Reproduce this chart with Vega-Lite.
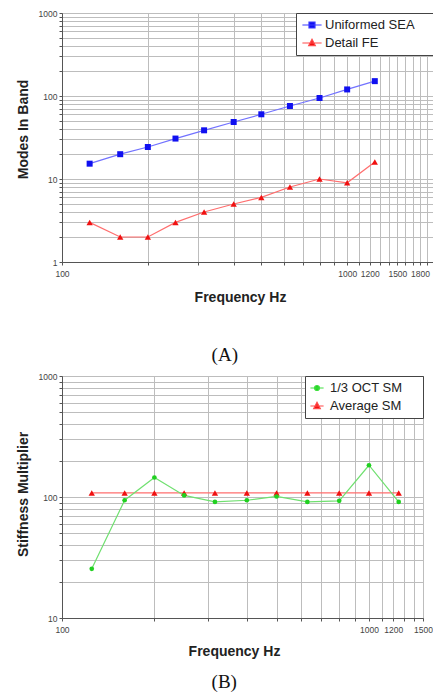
{
  "$schema": "https://vega.github.io/schema/vega-lite/v6.json",
  "background": "white",
  "padding": {"left": 15, "top": 8, "right": 0, "bottom": 0},
  "spacing": 6,
  "resolve": {
    "scale": {"fill": "independent", "stroke": "independent", "shape": "independent", "color": "independent"},
    "legend": {"fill": "independent", "stroke": "independent", "shape": "independent", "color": "independent"}
  },
  "config": {
    "font": "Liberation Sans",
    "view": {"stroke": "#555", "strokeWidth": 1},
    "axis": {
      "grid": true,
      "gridColor": "#bdbdbd",
      "gridWidth": 1,
      "domainColor": "#555",
      "tickColor": "#555",
      "tickSize": 3,
      "labelFont": "Liberation Sans",
      "labelFontSize": 8.5,
      "labelColor": "#444",
      "labelOverlap": false,
      "labelFlush": false,
      "titleFont": "Liberation Sans",
      "titleFontSize": 14,
      "titleFontWeight": "bold",
      "titleColor": "#222"
    }
  },
  "datasets": {
    "a": [
      {"freq": 125, "value": 15.3, "series": "Uniformed SEA"},
      {"freq": 160, "value": 19.9, "series": "Uniformed SEA"},
      {"freq": 200, "value": 24.3, "series": "Uniformed SEA"},
      {"freq": 250, "value": 30.7, "series": "Uniformed SEA"},
      {"freq": 315, "value": 38.6, "series": "Uniformed SEA"},
      {"freq": 400, "value": 48.6, "series": "Uniformed SEA"},
      {"freq": 500, "value": 60.2, "series": "Uniformed SEA"},
      {"freq": 630, "value": 75.8, "series": "Uniformed SEA"},
      {"freq": 800, "value": 94.6, "series": "Uniformed SEA"},
      {"freq": 1000, "value": 120, "series": "Uniformed SEA"},
      {"freq": 1250, "value": 151, "series": "Uniformed SEA"},
      {"freq": 125, "value": 3, "series": "Detail FE"},
      {"freq": 160, "value": 2, "series": "Detail FE"},
      {"freq": 200, "value": 2, "series": "Detail FE"},
      {"freq": 250, "value": 3, "series": "Detail FE"},
      {"freq": 315, "value": 4, "series": "Detail FE"},
      {"freq": 400, "value": 5, "series": "Detail FE"},
      {"freq": 500, "value": 6, "series": "Detail FE"},
      {"freq": 630, "value": 8, "series": "Detail FE"},
      {"freq": 800, "value": 10, "series": "Detail FE"},
      {"freq": 1000, "value": 9, "series": "Detail FE"},
      {"freq": 1250, "value": 16, "series": "Detail FE"}
    ],
    "b": [
      {"freq": 125, "value": 25.5, "series": "1/3 OCT SM"},
      {"freq": 160, "value": 94, "series": "1/3 OCT SM"},
      {"freq": 200, "value": 145, "series": "1/3 OCT SM"},
      {"freq": 250, "value": 103, "series": "1/3 OCT SM"},
      {"freq": 315, "value": 91, "series": "1/3 OCT SM"},
      {"freq": 400, "value": 94, "series": "1/3 OCT SM"},
      {"freq": 500, "value": 101, "series": "1/3 OCT SM"},
      {"freq": 630, "value": 91, "series": "1/3 OCT SM"},
      {"freq": 800, "value": 93, "series": "1/3 OCT SM"},
      {"freq": 1000, "value": 183, "series": "1/3 OCT SM"},
      {"freq": 1250, "value": 91, "series": "1/3 OCT SM"},
      {"freq": 125, "value": 108, "series": "Average SM"},
      {"freq": 160, "value": 108, "series": "Average SM"},
      {"freq": 200, "value": 108, "series": "Average SM"},
      {"freq": 250, "value": 108, "series": "Average SM"},
      {"freq": 315, "value": 108, "series": "Average SM"},
      {"freq": 400, "value": 108, "series": "Average SM"},
      {"freq": 500, "value": 108, "series": "Average SM"},
      {"freq": 630, "value": 108, "series": "Average SM"},
      {"freq": 800, "value": 108, "series": "Average SM"},
      {"freq": 1000, "value": 108, "series": "Average SM"},
      {"freq": 1250, "value": 108, "series": "Average SM"}
    ]
  },
  "vconcat": [
    {
      "width": 371,
      "height": 249,
      "title": {"text": "(A)", "orient": "bottom", "frame": "bounds", "anchor": "middle", "font": "Liberation Serif", "fontSize": 19, "fontWeight": "normal", "color": "#111", "offset": 41},
      "data": {"name": "a"},
      "encoding": {
        "x": {"field": "freq", "type": "quantitative",
          "scale": {"type": "log", "domain": [100, 2000], "nice": false},
          "axis": {"title": "Frequency Hz", "titlePadding": 13, "titleX": 178, "labelPadding": 4,
            "values": [100,200,300,400,500,600,700,800,900,1000,1100,1200,1300,1400,1500,1600,1700,1800,1900,2000],
            "labelExpr": "indexof([100,1000,1200,1500,1800], datum.value) >= 0 ? format(datum.value, 'd') : ''"}},
        "y": {"field": "value", "type": "quantitative",
          "scale": {"type": "log", "domain": [1, 1000], "nice": false},
          "axis": {"title": "Modes In Band", "titlePadding": 8, "titleY": 116, "labelPadding": 2,
            "values": [1,2,3,4,5,6,7,8,9,10,20,30,40,50,60,70,80,90,100,200,300,400,500,600,700,800,900,1000],
            "labelExpr": "indexof([1,10,100,1000], datum.value) >= 0 ? format(datum.value, 'd') : ''"}}
      },
      "layer": [
        {"transform": [{"filter": "datum.series === 'Uniformed SEA'"}], "mark": {"type": "line", "stroke": "#7272ff", "strokeWidth": 1.2}},
        {"transform": [{"filter": "datum.series === 'Detail FE'"}], "mark": {"type": "line", "stroke": "#ff6e6e", "strokeWidth": 1.2}},
        {"transform": [{"filter": "datum.series === 'Uniformed SEA'"}], "mark": {"type": "point", "shape": "square", "filled": true, "color": "#1010f0", "size": 36, "opacity": 1}},
        {"transform": [{"filter": "datum.series === 'Detail FE'"}], "mark": {"type": "point", "shape": "triangle-up", "filled": true, "color": "#f01010", "size": 40, "opacity": 1}},
        {"mark": {"type": "point", "filled": true, "opacity": 0, "strokeWidth": 1.2},
          "encoding": {
            "fill": {"field": "series", "type": "nominal", "scale": {"domain": ["Uniformed SEA", "Detail FE"], "range": ["#1010f0", "#f01010"]},
              "legend": {"title": "x", "titleOrient": "right", "titleFontSize": 10, "titleOpacity": 0, "titlePadding": 7, "orient": "top-right", "offset": 0, "padding": 5, "strokeColor": "#444", "fillColor": "white", "labelFont": "Liberation Sans", "labelFontSize": 13, "labelColor": "#222", "symbolSize": 144, "symbolStrokeWidth": 1.2, "symbolOffset": 4, "labelOffset": 6, "rowPadding": 4, "symbolOpacity": 1, "labelLimit": 0}},
            "stroke": {"field": "series", "type": "nominal", "scale": {"domain": ["Uniformed SEA", "Detail FE"], "range": ["#3a3aff", "#ff4a4a"]},
              "legend": {"title": "x", "titleOrient": "right", "titleFontSize": 10, "titleOpacity": 0, "titlePadding": 7, "orient": "top-right", "offset": 0, "padding": 5, "strokeColor": "#444", "fillColor": "white", "labelFont": "Liberation Sans", "labelFontSize": 13, "labelColor": "#222", "symbolSize": 144, "symbolStrokeWidth": 1.2, "symbolOffset": 4, "labelOffset": 6, "rowPadding": 4, "symbolOpacity": 1, "labelLimit": 0}},
            "shape": {"field": "series", "type": "nominal", "scale": {"domain": ["Uniformed SEA", "Detail FE"], "range": ["M-1.6,0H1.6M-0.5,-0.5H0.5V0.5H-0.5Z", "M-1.6,0H1.6M0,-0.6L0.55,0.45H-0.55Z"]},
              "legend": {"title": "x", "titleOrient": "right", "titleFontSize": 10, "titleOpacity": 0, "titlePadding": 7, "orient": "top-right", "offset": 0, "padding": 5, "strokeColor": "#444", "fillColor": "white", "labelFont": "Liberation Sans", "labelFontSize": 13, "labelColor": "#222", "symbolSize": 144, "symbolStrokeWidth": 1.2, "symbolOffset": 4, "labelOffset": 6, "rowPadding": 4, "symbolOpacity": 1, "labelLimit": 0}}
          }}
      ]
    },
    {
      "width": 361,
      "height": 242,
      "title": {"text": "(B)", "orient": "bottom", "frame": "bounds", "anchor": "middle", "font": "Liberation Serif", "fontSize": 19, "fontWeight": "normal", "color": "#111", "offset": 14},
      "data": {"name": "b"},
      "encoding": {
        "x": {"field": "freq", "type": "quantitative",
          "scale": {"type": "log", "domain": [100, 1500], "nice": false},
          "axis": {"title": "Frequency Hz", "titlePadding": 11, "titleX": 172, "labelPadding": 4,
            "values": [100,200,300,400,500,600,700,800,900,1000,1100,1200,1300,1400,1500],
            "labelExpr": "indexof([100,1000,1200,1500], datum.value) >= 0 ? format(datum.value, 'd') : ''"}},
        "y": {"field": "value", "type": "quantitative",
          "scale": {"type": "log", "domain": [10, 1000], "nice": false},
          "axis": {"title": "Stiffness Multiplier", "titlePadding": 8, "titleY": 118, "labelPadding": 2,
            "values": [10,20,30,40,50,60,70,80,90,100,200,300,400,500,600,700,800,900,1000],
            "labelExpr": "indexof([10,100,1000], datum.value) >= 0 ? format(datum.value, 'd') : ''"}}
      },
      "layer": [
        {"transform": [{"filter": "datum.series === 'Average SM'"}], "mark": {"type": "line", "stroke": "#ff6e6e", "strokeWidth": 1.2}},
        {"transform": [{"filter": "datum.series === '1/3 OCT SM'"}], "mark": {"type": "line", "stroke": "#70e070", "strokeWidth": 1.2}},
        {"transform": [{"filter": "datum.series === 'Average SM'"}], "mark": {"type": "point", "shape": "triangle-up", "filled": true, "color": "#f01010", "size": 40, "opacity": 1}},
        {"transform": [{"filter": "datum.series === '1/3 OCT SM'"}], "mark": {"type": "point", "shape": "circle", "filled": true, "color": "#20d020", "size": 22, "opacity": 1}},
        {"mark": {"type": "point", "filled": true, "opacity": 0, "strokeWidth": 1.2},
          "encoding": {
            "fill": {"field": "series", "type": "nominal", "scale": {"domain": ["1/3 OCT SM", "Average SM"], "range": ["#20d020", "#f01010"]},
              "legend": {"title": "x", "titleOrient": "right", "titleFontSize": 10, "titleOpacity": 0, "titlePadding": 10, "orient": "top-right", "offset": 0, "padding": 5, "strokeColor": "#444", "fillColor": "white", "labelFont": "Liberation Sans", "labelFontSize": 13, "labelColor": "#222", "symbolSize": 144, "symbolStrokeWidth": 1.2, "symbolOffset": 0, "labelOffset": 6, "rowPadding": 4, "symbolOpacity": 1, "labelLimit": 0}},
            "stroke": {"field": "series", "type": "nominal", "scale": {"domain": ["1/3 OCT SM", "Average SM"], "range": ["#40e040", "#ff4a4a"]},
              "legend": {"title": "x", "titleOrient": "right", "titleFontSize": 10, "titleOpacity": 0, "titlePadding": 10, "orient": "top-right", "offset": 0, "padding": 5, "strokeColor": "#444", "fillColor": "white", "labelFont": "Liberation Sans", "labelFontSize": 13, "labelColor": "#222", "symbolSize": 144, "symbolStrokeWidth": 1.2, "symbolOffset": 0, "labelOffset": 6, "rowPadding": 4, "symbolOpacity": 1, "labelLimit": 0}},
            "shape": {"field": "series", "type": "nominal", "scale": {"domain": ["1/3 OCT SM", "Average SM"], "range": ["M-1.1,0H1.1M0.42,0A0.42,0.42,0,1,1,-0.42,0A0.42,0.42,0,1,1,0.42,0Z", "M-1.1,0H1.1M0,-0.6L0.55,0.45H-0.55Z"]},
              "legend": {"title": "x", "titleOrient": "right", "titleFontSize": 10, "titleOpacity": 0, "titlePadding": 10, "orient": "top-right", "offset": 0, "padding": 5, "strokeColor": "#444", "fillColor": "white", "labelFont": "Liberation Sans", "labelFontSize": 13, "labelColor": "#222", "symbolSize": 144, "symbolStrokeWidth": 1.2, "symbolOffset": 0, "labelOffset": 6, "rowPadding": 4, "symbolOpacity": 1, "labelLimit": 0}}
          }}
      ]
    }
  ]
}
